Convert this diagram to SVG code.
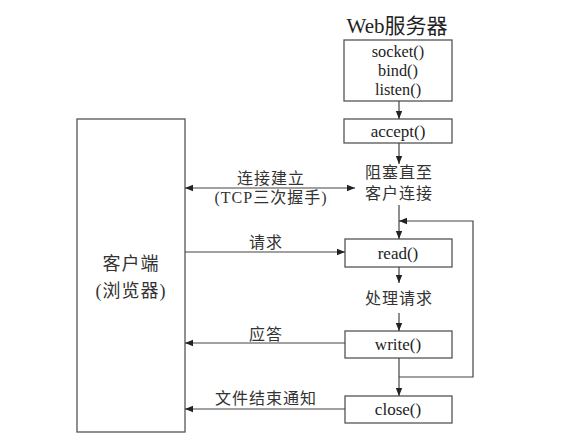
<svg xmlns="http://www.w3.org/2000/svg" width="572" height="447" viewBox="0 0 572 447">
<style>
.box{fill:#fff;stroke:#555;stroke-width:1.3}
.ln{fill:none;stroke:#444;stroke-width:1.2}
.t{font-family:"Liberation Serif","Noto Sans CJK SC",serif;font-size:17px;fill:#222;text-anchor:middle}
.s{font-family:"Liberation Serif","Noto Sans CJK SC",serif;font-size:16.3px;fill:#222;text-anchor:middle}
.c{font-family:"Liberation Serif","Noto Sans CJK SC",serif;font-size:16px;letter-spacing:1px;fill:#333;text-anchor:middle}
</style>
<defs>
<marker id="ah" viewBox="0 0 10 10" refX="10" refY="5" markerWidth="8" markerHeight="8" markerUnits="userSpaceOnUse" orient="auto-start-reverse">
<path d="M0,1 L10,5 L0,9 Z" fill="#222"/>
</marker>
</defs>
<rect width="572" height="447" fill="#fff"/>
<g id="client">
<rect class="box" x="77" y="119" width="108" height="313"/>
<text class="c" x="131" y="270" style="font-size:18px">客户端</text>
<text class="c" x="131" y="297" style="font-size:18px">(浏览器)</text>
</g>
<g id="server-title">
<text x="397" y="33" style="font-family:'Liberation Serif','Noto Sans CJK SC',serif;font-size:21px;fill:#222;text-anchor:middle">Web服务器</text>
</g>
<g id="init">
<rect class="box" x="344" y="40" width="108" height="61"/>
<text class="s" x="398" y="57">socket()</text>
<text class="s" x="398" y="76">bind()</text>
<text class="s" x="398" y="95">listen()</text>
</g>
<g id="accept">
<rect class="box" x="344" y="119" width="108" height="24"/>
<text class="t" x="398" y="137">accept()</text>
</g>
<g id="block">
<text class="c" x="399" y="178">阻塞直至</text>
<text class="c" x="399" y="199">客户连接</text>
</g>
<g id="read">
<rect class="box" x="345" y="239" width="107" height="28"/>
<text class="t" x="398" y="259">read()</text>
</g>
<g id="process">
<text class="c" x="399" y="304">处理请求</text>
</g>
<g id="write">
<rect class="box" x="345" y="331" width="107" height="27"/>
<text class="t" x="398" y="350">write()</text>
</g>
<g id="close">
<rect class="box" x="345" y="396" width="107" height="27"/>
<text class="t" x="398" y="415">close()</text>
</g>
<g id="connectors">
<line class="ln" x1="399" y1="101" x2="399" y2="119" marker-end="url(#ah)"/>
<line class="ln" x1="399" y1="143" x2="399" y2="164" marker-end="url(#ah)"/>
<line class="ln" x1="399" y1="205" x2="399" y2="239" marker-end="url(#ah)"/>
<polyline class="ln" points="399,377 473,377 473,221 399,221" marker-end="url(#ah)"/>
<line class="ln" x1="399" y1="267" x2="399" y2="283" marker-end="url(#ah)"/>
<line class="ln" x1="399" y1="313" x2="399" y2="331" marker-end="url(#ah)"/>
<line class="ln" x1="399" y1="358" x2="399" y2="396" marker-end="url(#ah)"/>
<line class="ln" x1="185" y1="188" x2="355" y2="188" marker-start="url(#ah)" marker-end="url(#ah)"/>
<line class="ln" x1="185" y1="252" x2="345" y2="252" marker-end="url(#ah)"/>
<line class="ln" x1="345" y1="343" x2="185" y2="343" marker-end="url(#ah)"/>
<line class="ln" x1="345" y1="409" x2="185" y2="409" marker-end="url(#ah)"/>
<text class="c" x="271" y="184">连接建立</text>
<text class="c" x="271" y="203">(TCP三次握手)</text>
<text class="c" x="266" y="248">请求</text>
<text class="c" x="266" y="340">应答</text>
<text class="c" x="266" y="404">文件结束通知</text>
</g>
</svg>
